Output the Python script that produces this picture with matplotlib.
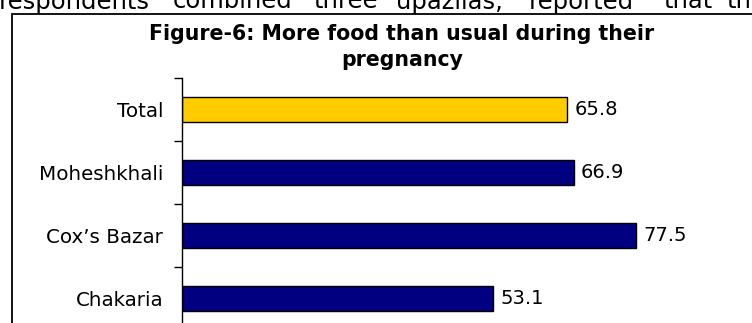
import matplotlib.pyplot as plt
from matplotlib.patches import Rectangle

categories = ['Total', 'Moheshkhali', "Cox\u2019s Bazar", 'Chakaria']
values = [65.8, 66.9, 77.5, 53.1]
colors = ['#FFCC00', '#000080', '#000080', '#000080']
title = 'Figure-6: More food than usual during their\npregnancy'

# fragment of the body text line above the figure (cut off at the top)
words = ['respondents', 'combined', 'three', 'upazilas,', 'reported', 'that', 'the']
word_x = [150, 173, 313, 396, 529, 663, 726]

W, H = 752, 323
fig = plt.figure(figsize=(W / 100, H / 100), dpi=100)

for i, (w, x) in enumerate(zip(words, word_x)):
    fig.text(x / W, 1 - 8.5 / H, w, ha='right' if i == 0 else 'left',
             va='baseline', fontsize=17.5, family='DejaVu Sans')

# frame of the figure box
fig.patches.append(Rectangle((12 / W, -0.1), 1.0, 1 - 14 / H + 0.1,
                             transform=fig.transFigure, fill=False,
                             edgecolor='black', linewidth=1.3))

fig.text(402 / W, 1 - 24 / H, title, ha='center', va='top', fontsize=14.8,
         fontweight='bold', family='DejaVu Sans', linespacing=1.35)

ax = fig.add_axes([182 / W, -7 / H, 585.7 / W, 252 / H])
y = list(range(len(categories)))
ax.barh(y, values, height=0.39, color=colors, edgecolor='black', linewidth=1)
for yi, v in zip(y, values):
    ax.text(v + 1.2, yi, f'{v:.1f}', va='center', ha='left', fontsize=14)

ax.set_xlim(0, 100)
ax.set_ylim(len(categories) - 0.5, -0.5)
ax.set_yticks([i - 0.5 for i in range(len(categories) + 1)])
ax.set_yticklabels([])
ax.set_yticks(y, minor=True)
ax.set_yticklabels(categories, minor=True, fontsize=14.3)
ax.tick_params(axis='y', which='major', length=6, width=1, direction='out')
ax.tick_params(axis='y', which='minor', length=0, pad=13.5)
ax.set_xticks([])
for s in ['top', 'right', 'bottom']:
    ax.spines[s].set_visible(False)
ax.spines['left'].set_linewidth(1)
ax.patch.set_alpha(0)

fig.savefig('out.png', dpi=100)
